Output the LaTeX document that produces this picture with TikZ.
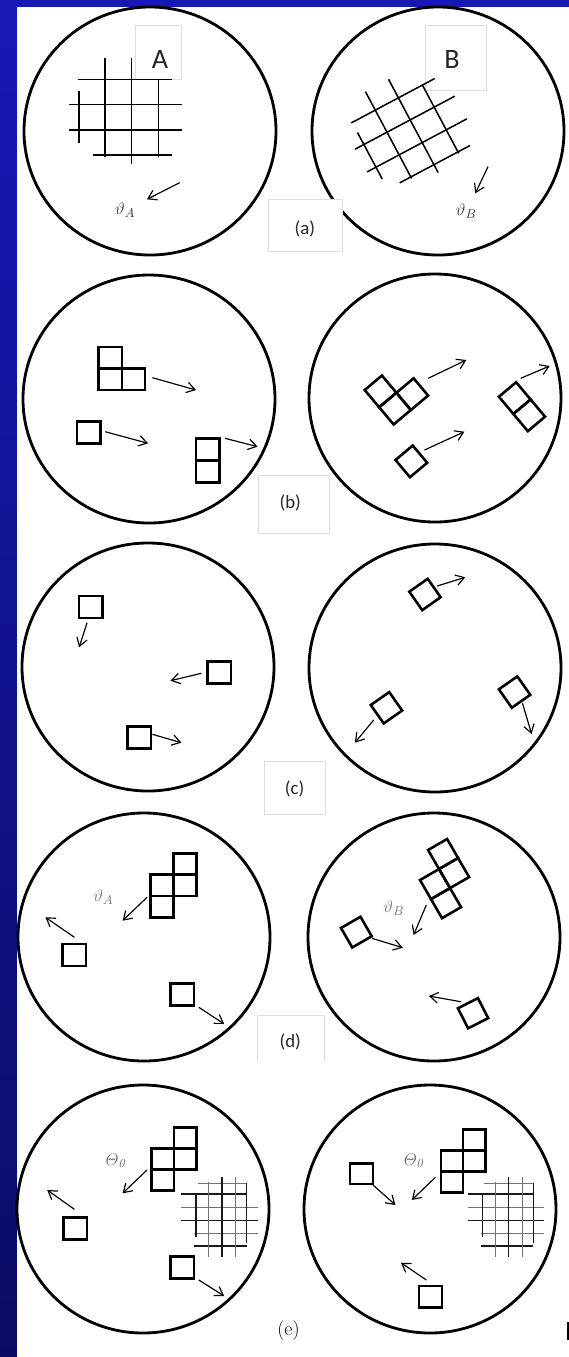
\documentclass[tikz,border=0pt]{standalone}
\usepackage{fontspec}
\newfontfamily\slidefont{Carlito}
\usetikzlibrary{arrows.meta}

\begin{document}
\begin{tikzpicture}[
    x=0.3mm, y=-0.3mm,
    >={Straight Barb[length=7pt, width=9pt]},
    ring/.style={line width=2.4pt},
    cellbox/.style={line width=2.2pt},
    mover/.style={->, line width=1pt},
    gridln/.style={line width=1.3pt},
    finedark/.style={line width=1.1pt, black!90},
    finelight/.style={line width=1.1pt, black!55},
    tagframe/.style={draw=black!13, fill=white, line width=0.6pt},
    tagtext/.style={font=\slidefont\fontsize{16}{18}\selectfont, text=black!85},
    boxletter/.style={font=\slidefont\fontsize{24}{26}\selectfont, text=black!85},
    anglabel/.style={font=\fontsize{15}{17}\selectfont, text=black!80},
]

\definecolor{slideTop}{RGB}{24,24,182}   % bright blue
\definecolor{slideBot}{RGB}{10,12,100}   % navy

% ============================================================
% SLIDE BACKGROUND
% ============================================================
\useasboundingbox (0,0) rectangle (569,1357);
\shade[top color=slideTop, bottom color=slideBot] (0,0) rectangle (569,1357);
\fill[white] (17,7) rectangle (569,1357);
\draw[line width=1pt] (568,1322) -- (568,1340);

% grain lines of A, relative to the grid centre
\def\gridAlines{-40.6/-37.9/53.8/-37.9, -49.6/-12.9/63.4/-12.9,
    -49.6/12.8/63.4/12.8, -26/37.8/53.8/37.8, -39.6/-26.5/-39.6/26.1,
    -13.4/-58.9/-13.4/39.5, 12.8/-58.9/12.8/46.8, 40/-37.9/40/39.5}

% ============================================================
% GRAINS (one circle per grain, two per row)
% ============================================================
\draw[tagframe, fill=none] (135,25) rectangle (181.4,79.3);
\draw[tagframe, fill=none] (425.3,25) rectangle (486.2,90.7);

\foreach \cx/\cy in {150/131, 438/131, 149/399, 435/398, 148/667,
                     435/668, 144/937, 434/937, 143/1209, 430/1209}
    \draw[ring] (\cx,\cy) ellipse [x radius=37.8mm, y radius=37.2mm];

% ============================================================
% (a) two lattices, misoriented
% ============================================================
\begin{scope}[shift={(118.6,117.2)}]
    \foreach \xa/\ya/\xb/\yb in \gridAlines
        \draw[gridln] (\xa,\ya) -- (\xb,\yb);
\end{scope}
\begin{scope}[shift={(404.9,137.3)}, rotate=28]
    \foreach \xa/\ya/\xb/\yb in \gridAlines
        \draw[gridln] (\xa,\ya) -- (\xb,\yb);
\end{scope}

\node[boxletter] (letA) at (160,59) {A};
\node[boxletter] (letB) at (452,59) {B};

\draw[mover] (179.6,182.7) -- (147,199.3);
\node[anglabel] (thA) at (125,210) {$\vartheta_A$};
\draw[mover] (488,166.7) -- (475.3,193.3);
\node[anglabel] (thB) at (466.3,210.7) {$\vartheta_B$};

\draw[tagframe] (268,199) rectangle (342,251.7);
\node[tagtext] (tagA) at (304.8,229) {(a)};

% ============================================================
% (b) clusters drifting
% ============================================================
\begin{scope}[shift={(98.7,347)}]
    \foreach \i/\j in {0/0, 0/1, 1/1}
        \draw[cellbox] (\i*23.2,\j*21.5) rectangle ++(23.2,21.5);
\end{scope}
\draw[mover] (152.4,377.7) -- (196,390);
\draw[cellbox] (77,421.7) rectangle ++(23.5,21.6);
\draw[mover] (105.2,431.7) -- (148,443.3);
\foreach \j in {0,1}
    \draw[cellbox] (196,438.3+\j*22.2) rectangle ++(23.5,22.2);
\draw[mover] (225,438.3) -- (257.6,446.7);

\begin{scope}[shift={(364.7,390)}, rotate=40]
    \foreach \i/\j in {0/0, 0/1, 1/1}
        \draw[cellbox] (\i*22.5,\j*22.5) rectangle ++(22.5,22.5);
\end{scope}
\draw[mover] (428.2,378.3) -- (466.3,360);
\begin{scope}[shift={(498.9,396.7)}, rotate=40]
    \foreach \j in {0,1}
        \draw[cellbox] (0,\j*22.5) rectangle ++(22.5,22.5);
\end{scope}
\draw[mover] (520.7,378.3) -- (549.7,366);
\draw[cellbox, shift={(395.5,460)}, rotate=40] (0,0) rectangle (22.5,22.5);
\draw[mover] (424.5,450) -- (464.4,431.7);

\draw[tagframe] (258,475) rectangle (329.5,533);
\node[tagtext] (tagB) at (290.3,503) {(b)};

% ============================================================
% (c) single cells
% ============================================================
\draw[cellbox] (79.1,596) rectangle ++(23.5,22);
\draw[mover] (87.1,622.7) -- (79.1,647.3);
\draw[cellbox] (207.5,661.7) rectangle ++(23.5,22);
\draw[mover] (201.4,673.3) -- (170.5,680.7);
\draw[cellbox] (127.7,726.7) rectangle ++(23.5,22);
\draw[mover] (152.4,734.3) -- (181.4,742.7);

\foreach \ox/\oy in {409.3/591.7, 370.8/705, 498.9/689.3}
    \draw[cellbox, shift={(\ox,\oy)}, rotate=35] (0,0) rectangle (22.5,22.5);
\draw[mover] (437.2,586) -- (465.2,577.3);
\draw[mover] (373.7,720) -- (354.9,742.7);
\draw[mover] (522.5,703.3) -- (531.6,734);

\draw[tagframe] (264,761.7) rectangle (325.5,814);
\node[tagtext] (tagC) at (294.6,789) {(c)};

% ============================================================
% (d) nuclei with orientations
% ============================================================
\begin{scope}[shift={(150.6,853.3)}]
    \foreach \i/\j in {1/0, 0/1, 1/1, 0/2}
        \draw[cellbox] (\i*23,\j*21.3) rectangle ++(23,21.3);
\end{scope}
\draw[mover] (147,897.3) -- (122.6,920.7);
\node[anglabel, text=black!55] (thAd) at (103.4,896.7) {$\vartheta_A$};
\draw[cellbox] (62.4,944) rectangle ++(23.5,22);
\draw[mover] (74.4,937.3) -- (45.4,917.3);
\draw[cellbox] (170.5,983.3) rectangle ++(23.5,22);
\draw[mover] (198.8,1007.3) -- (224.2,1024);

\begin{scope}[shift={(409,861)}, rotate=30]
    \foreach \i/\j in {1/0, 0/1, 1/1, 0/2}
        \draw[cellbox] (\i*22,\j*22) rectangle ++(22,22);
\end{scope}
\draw[mover] (426.3,905) -- (413.6,935);
\node[anglabel, text=black!55] (thBd) at (393.7,908.3) {$\vartheta_B$};
\draw[cellbox, shift={(341,928)}, rotate=30] (0,0) rectangle (22.5,22.5);
\draw[mover] (371.9,938.3) -- (402.8,947.7);
\draw[cellbox, shift={(457.9,1008.3)}, rotate=27] (0,0) rectangle (22.5,22.5);
\draw[mover] (460.8,1001.7) -- (428.9,996);

\draw[tagframe] (257.6,1062) -- (257.6,1015) -- (324.7,1015) -- (324.7,1062);
\node[tagtext] (tagD) at (290.3,1042) {(d)};

% ============================================================
% (e) common orientation, overlapping lattices
% ============================================================
\foreach \dx in {0,286.6} {
    \begin{scope}[xshift=\dx*0.3mm]
        \foreach \ya/\xa/\xb in {1194/181.4/246.7, 1220.7/181.4/257.6, 1246/194.1/246.7}
            \draw[finedark] (\xa,\ya) -- (\xb,\ya);
        \foreach \ya/\xa/\xb in {1183.3/197.8/246.7, 1207.3/181.4/257.6, 1233.3/194.1/257.6}
            \draw[finelight] (\xa,\ya) -- (\xb,\ya);
        \foreach \xa/\ya/\yb in {196/1193.3/1236.7, 222/1176.7/1256.7, 246.7/1183.3/1243.3}
            \draw[finedark] (\xa,\ya) -- (\xa,\yb);
        \foreach \xa/\ya/\yb in {208.6/1181.7/1256.7, 235.8/1176.7/1256.7}
            \draw[finelight] (\xa,\ya) -- (\xa,\yb);
    \end{scope}
}

\begin{scope}[shift={(151.7,1127.3)}]
    \foreach \i/\j in {1/0, 0/1, 1/1, 0/2}
        \draw[cellbox] (\i*22.5,\j*21) rectangle ++(22.5,21);
\end{scope}
\draw[mover] (147,1170) -- (122.6,1193.3);
\node[anglabel, text=black!60] (thOl) at (115.4,1160.7) {$\mathnormal{\Theta}_{\mathit{0}}$};
\draw[cellbox] (63.5,1217.3) rectangle ++(23.5,22);
\draw[mover] (74.4,1209.3) -- (47.2,1190);
\draw[cellbox] (170.5,1256.7) rectangle ++(23.5,22);
\draw[mover] (198.8,1280) -- (224.2,1296);

\begin{scope}[shift={(440.9,1129.3)}]
    \foreach \i/\j in {1/0, 0/1, 1/1, 0/2}
        \draw[cellbox] (\i*22.3,\j*21) rectangle ++(22.3,21);
\end{scope}
\draw[mover] (435.4,1177.3) -- (411.8,1200);
\node[anglabel, text=black!60] (thOr) at (413.6,1160.7) {$\mathnormal{\Theta}_{\mathit{0}}$};
\draw[cellbox] (350.1,1163.3) rectangle ++(23,20.5);
\draw[mover] (373,1185) -- (395.5,1205);
\draw[cellbox] (419.1,1286) rectangle ++(23,21.3);
\draw[mover] (426.3,1280) -- (401,1262.7);

\node[font=\fontsize{17}{19}\selectfont] (tagE) at (288.5,1331) {(e)};

\end{tikzpicture}
\end{document}
